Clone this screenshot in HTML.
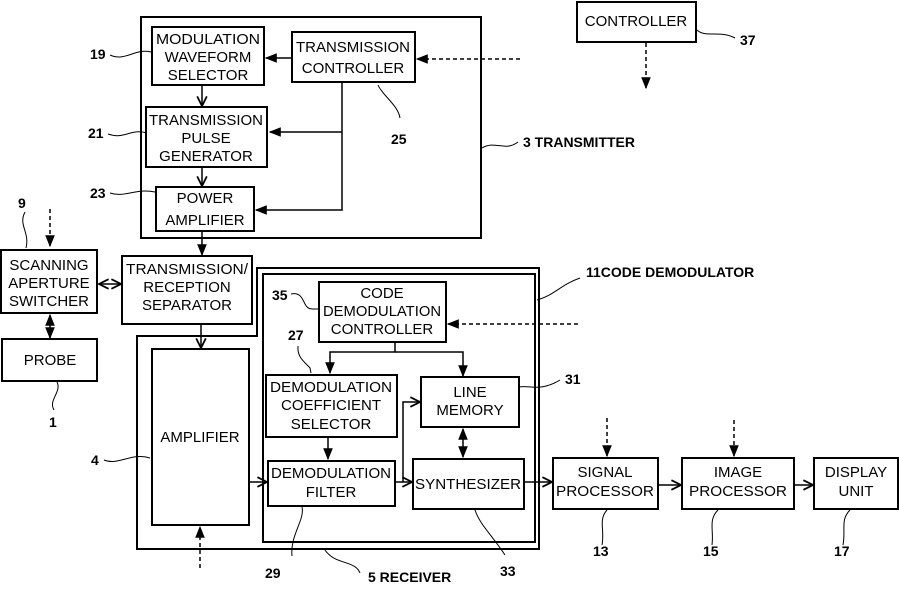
<!DOCTYPE html>
<html><head><meta charset="utf-8"><style>
html,body{margin:0;padding:0;background:#fff;}
svg{display:block;}
text{font-family:"Liberation Sans",sans-serif;fill:#000;}
.b{font-size:15px;text-anchor:middle;}
.n{font-size:14px;font-weight:bold;}
</style></head><body>
<svg width="899" height="593" viewBox="0 0 899 593" xmlns="http://www.w3.org/2000/svg">
<defs>
<marker id="a" viewBox="0 0 10 10" refX="9" refY="5" markerWidth="8" markerHeight="8" orient="auto-start-reverse"><path d="M0,1 L10,5 L0,9 z" fill="#000"/></marker>
<marker id="o" viewBox="0 0 10 10" refX="9" refY="5" markerWidth="8" markerHeight="8" orient="auto-start-reverse"><path d="M1,1 L9,5 L1,9" fill="none" stroke="#000" stroke-width="1.5"/></marker>
</defs>
<g fill="none" stroke="#000" stroke-width="2">
<rect x="141" y="17" width="340" height="221"/>
<rect x="152" y="27" width="112" height="58"/>
<rect x="292" y="32" width="123" height="50"/>
<rect x="146" y="107" width="121" height="60"/>
<rect x="156" y="187" width="98" height="44"/>
<rect x="577" y="2" width="119" height="40"/>
<rect x="1" y="250" width="96" height="63"/>
<rect x="2" y="339" width="95" height="42"/>
<rect x="122" y="256" width="130" height="68"/>
<path d="M137,336 L257,336 L257,268 L539,268 L539,549 L137,549 Z"/>
<rect x="263" y="274" width="272" height="268"/>
<rect x="152" y="349" width="97" height="176"/>
<rect x="319" y="282" width="127" height="60"/>
<rect x="266" y="375" width="131" height="62"/>
<rect x="421" y="377" width="98" height="50"/>
<rect x="268" y="461" width="127" height="45"/>
<rect x="413" y="459" width="111" height="50"/>
<rect x="553" y="458" width="105" height="51"/>
<rect x="682" y="458" width="112" height="51"/>
<rect x="814" y="458" width="84" height="51"/>
</g>
<g fill="none" stroke="#000" stroke-width="1.5">
<line x1="292" y1="58" x2="266" y2="58" marker-end="url(#a)"/>
<line x1="202" y1="85" x2="202" y2="106" marker-end="url(#o)"/>
<path d="M342,82 L342,210 L256,210" marker-end="url(#a)"/>
<line x1="342" y1="132" x2="270" y2="132" marker-end="url(#a)"/>
<line x1="202" y1="167" x2="202" y2="186" marker-end="url(#o)"/>
<line x1="202" y1="231" x2="202" y2="255" marker-end="url(#a)"/>
<line x1="99" y1="284" x2="121" y2="284" marker-start="url(#o)" marker-end="url(#o)"/>
<line x1="50" y1="315" x2="50" y2="338" marker-start="url(#a)" marker-end="url(#a)"/>
<line x1="201" y1="324" x2="201" y2="348" marker-end="url(#o)"/>
<path d="M395,342 L395,352 L330,352 L330,373" marker-end="url(#a)"/>
<path d="M395,352 L463,352 L463,376" marker-end="url(#a)"/>
<line x1="328" y1="437" x2="328" y2="459" marker-end="url(#a)"/>
<line x1="249" y1="482" x2="267" y2="482" marker-end="url(#o)"/>
<line x1="395" y1="482" x2="412" y2="482" marker-end="url(#o)"/>
<path d="M403,482 L403,402 L420,402" marker-end="url(#o)"/>
<line x1="463" y1="429" x2="463" y2="457" marker-start="url(#a)" marker-end="url(#a)"/>
<line x1="524" y1="482" x2="552" y2="482" marker-end="url(#o)"/>
<line x1="658" y1="485" x2="681" y2="485" marker-end="url(#o)"/>
<line x1="794" y1="485" x2="813" y2="485" marker-end="url(#o)"/>
</g>
<g fill="none" stroke="#000" stroke-width="1.5" stroke-dasharray="4,3">
<line x1="520" y1="59" x2="417" y2="59" marker-end="url(#a)"/>
<line x1="646" y1="43" x2="646" y2="88" marker-end="url(#a)"/>
<line x1="50" y1="209" x2="50" y2="246" marker-end="url(#a)"/>
<line x1="578" y1="324" x2="448" y2="324" marker-end="url(#a)"/>
<line x1="200" y1="568" x2="200" y2="527" marker-end="url(#a)"/>
<line x1="607" y1="418" x2="607" y2="456" marker-end="url(#a)"/>
<line x1="734" y1="420" x2="734" y2="456" marker-end="url(#a)"/>
</g>
<g fill="none" stroke="#000" stroke-width="1">
<path d="M110,55 C125,62 135,48 151,52"/>
<path d="M108,134 C125,140 130,128 147,133"/>
<path d="M110,193 C125,198 135,188 155,192"/>
<path d="M25,212 C18,225 30,232 26,248"/>
<path d="M378,85 C382,95 398,105 400,118"/>
<path d="M482,148 C495,140 505,152 518,142"/>
<path d="M697,30 C705,38 720,30 735,38"/>
<path d="M57,382 C62,392 48,400 54,410"/>
<path d="M104,460 C118,466 132,452 150,458"/>
<path d="M291,294 C300,292 302,298 305,304 C308,310 312,309 318,309"/>
<path d="M298,346 C297,358 305,362 310,368 L311,373"/>
<path d="M537,300 C555,295 560,285 580,278"/>
<path d="M519,387 C530,385 540,392 560,380"/>
<path d="M302,507 C305,520 290,535 292,556"/>
<path d="M325,550 C335,565 355,560 360,573"/>
<path d="M475,510 C480,525 492,535 505,555"/>
<path d="M607,510 C598,520 605,530 602,545"/>
<path d="M718,510 C708,520 714,530 712,545"/>
<path d="M850,510 C840,520 846,530 843,545"/>
</g>
<g class="b">
<text x="208" y="44" textLength="104" lengthAdjust="spacingAndGlyphs">MODULATION</text><text x="208" y="62">WAVEFORM</text><text x="208" y="80">SELECTOR</text>
<text x="353" y="52" textLength="114" lengthAdjust="spacingAndGlyphs">TRANSMISSION</text><text x="353" y="73">CONTROLLER</text>
<text x="206" y="125" textLength="114" lengthAdjust="spacingAndGlyphs">TRANSMISSION</text><text x="206" y="143">PULSE</text><text x="206" y="161">GENERATOR</text>
<text x="205" y="203">POWER</text><text x="205" y="225">AMPLIFIER</text>
<text x="636" y="26">CONTROLLER</text>
<text x="49" y="270">SCANNING</text><text x="49" y="288">APERTURE</text><text x="49" y="306">SWITCHER</text>
<text x="50" y="365">PROBE</text>
<text x="187" y="274" textLength="122" lengthAdjust="spacingAndGlyphs">TRANSMISSION/</text><text x="187" y="292">RECEPTION</text><text x="187" y="310">SEPARATOR</text>
<text x="200" y="442">AMPLIFIER</text>
<text x="382" y="298">CODE</text><text x="382" y="316" textLength="118" lengthAdjust="spacingAndGlyphs">DEMODULATION</text><text x="382" y="334">CONTROLLER</text>
<text x="331" y="392" textLength="122" lengthAdjust="spacingAndGlyphs">DEMODULATION</text><text x="331" y="410">COEFFICIENT</text><text x="331" y="429">SELECTOR</text>
<text x="470" y="397">LINE</text><text x="470" y="415">MEMORY</text>
<text x="331" y="478" textLength="120" lengthAdjust="spacingAndGlyphs">DEMODULATION</text><text x="331" y="497">FILTER</text>
<text x="468" y="489" textLength="106" lengthAdjust="spacingAndGlyphs">SYNTHESIZER</text>
<text x="605" y="477">SIGNAL</text><text x="605" y="496" textLength="98" lengthAdjust="spacingAndGlyphs">PROCESSOR</text>
<text x="738" y="477">IMAGE</text><text x="738" y="496" textLength="98" lengthAdjust="spacingAndGlyphs">PROCESSOR</text>
<text x="856" y="477">DISPLAY</text><text x="856" y="496">UNIT</text>
</g>
<g class="n">
<text x="90" y="59">19</text>
<text x="88" y="138">21</text>
<text x="90" y="198">23</text>
<text x="18" y="208">9</text>
<text x="391" y="144">25</text>
<text x="523" y="147">3 TRANSMITTER</text>
<text x="740" y="45">37</text>
<text x="586" y="277">11CODE DEMODULATOR</text>
<text x="272" y="300">35</text>
<text x="288" y="340">27</text>
<text x="565" y="384">31</text>
<text x="49" y="427">1</text>
<text x="91" y="465">4</text>
<text x="265" y="578">29</text>
<text x="368" y="582">5 RECEIVER</text>
<text x="500" y="576">33</text>
<text x="593" y="556">13</text>
<text x="703" y="556">15</text>
<text x="834" y="556">17</text>
</g>
</svg>
</body></html>
